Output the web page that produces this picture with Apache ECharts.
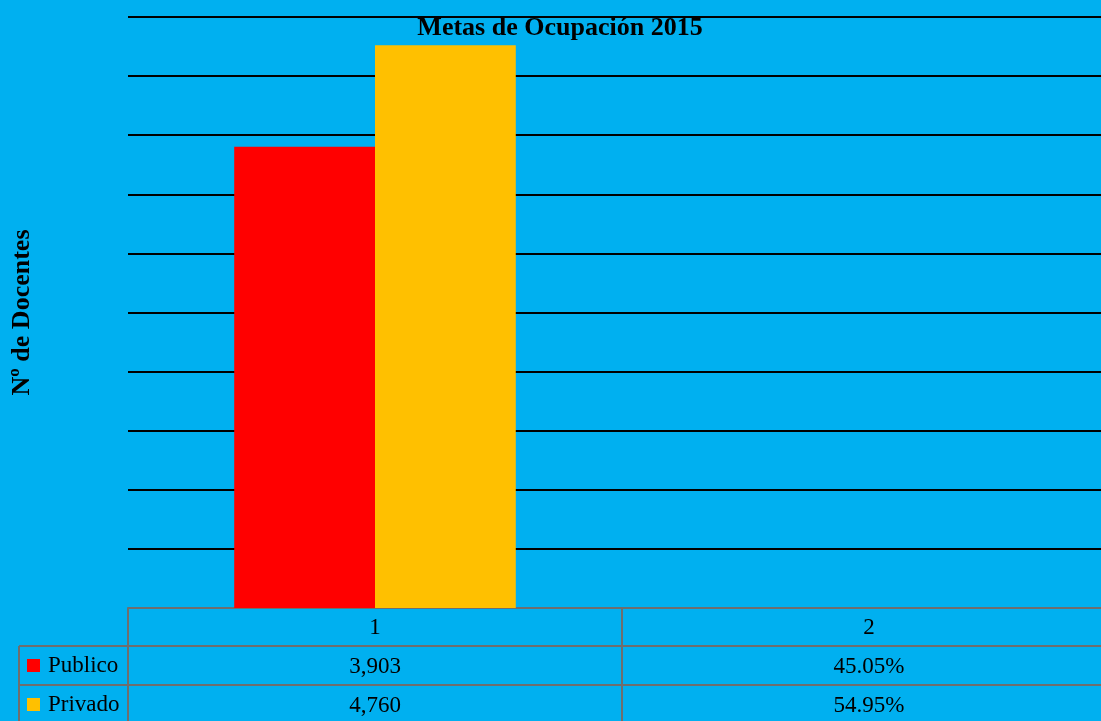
<!DOCTYPE html>
<html>
<head>
<meta charset="utf-8">
<script src="https://cdn.jsdelivr.net/npm/echarts@6/dist/echarts.min.js"></script>
<style>
    html, body { margin: 0; padding: 0; background: #00B0F0; }
    #myChart { width: 1101px; height: 721px; }
</style>
</head>
<body>
<div id="myChart"></div>
<script>
    // datos
    var categories = ['1', '2'];
    var seriesNames = ['Publico', 'Privado'];
    var publico = [3903, 0.4505];
    var privado = [4760, 0.5495];
    var colors = ['#FF0000', '#FFC000'];

    var fontFam = '"Liberation Serif", "DejaVu Serif", serif';

    function fmt(v, idx) {
        // la columna 2 viene en porcentaje
        if (idx === 1) return (v * 100).toFixed(2) + '%';
        return v.toLocaleString('en-US');
    }

    var myChart = echarts.init(document.getElementById('myChart'));

    myChart.setOption({
        backgroundColor: '#00B0F0',
        title: {
            text: 'Metas de Ocupación 2015',
            left: 555,
            textAlign: 'center',
            top: 10,
            textStyle: {
                fontFamily: fontFam,
                fontSize: 26,
                fontWeight: 'bold',
                color: '#000'
            }
        },
        legend: {
            orient: 'vertical',
            left: 27,
            top: 654,
            height: 120,
            padding: 0,
            itemWidth: 13,
            itemHeight: 13,
            itemGap: 16,
            icon: 'rect',
            data: seriesNames,
            textStyle: {
                fontFamily: fontFam,
                fontSize: 23,
                lineHeight: 23,
                color: '#000',
                padding: [0, 0, 0, 3]
            }
        },
        grid: {
            left: 128,
            width: 988,
            top: 17,
            bottom: 113,
            outerBoundsMode: 'none'
        },
        xAxis: {
            type: 'category',
            data: categories,
            axisLine: { show: true, lineStyle: { color: '#6E6E6E', width: 2 } },
            axisTick: {
                show: true,
                length: 113,
                lineStyle: { color: '#6E6E6E', width: 2 }
            },
            axisLabel: {
                margin: 0,
                interval: 0,
                formatter: function (val, idx) {
                    return '{c|' + val + '}\n{c|' + fmt(publico[idx], idx) + '}\n{c|' + fmt(privado[idx], idx) + '}';
                },
                rich: {
                    c: {
                        fontFamily: fontFam,
                        fontSize: 23,
                        color: '#000',
                        lineHeight: 39,
                        align: 'center'
                    }
                }
            }
        },
        yAxis: {
            type: 'value',
            min: 0,
            max: 5000,
            interval: 500,
            name: 'Nº de Docentes',
            nameLocation: 'middle',
            nameGap: 93,
            nameTextStyle: {
                fontFamily: fontFam,
                fontSize: 26,
                fontWeight: 'bold',
                color: '#000'
            },
            axisLabel: { show: false },
            axisLine: { show: false },
            axisTick: { show: false },
            splitLine: { lineStyle: { color: '#000', width: 2 } }
        },
        series: [
            {
                name: seriesNames[0],
                type: 'bar',
                data: publico,
                barGap: '0%',
                barCategoryGap: '43%',
                itemStyle: { color: colors[0] }
            },
            {
                name: seriesNames[1],
                type: 'bar',
                data: privado,
                itemStyle: { color: colors[1] }
            }
        ],
        // lineas de la tabla de datos
        graphic: [
            { type: 'line', shape: { x1: 19, y1: 646, x2: 1101, y2: 646 }, style: { stroke: '#6E6E6E', lineWidth: 2 } },
            { type: 'line', shape: { x1: 19, y1: 685, x2: 1101, y2: 685 }, style: { stroke: '#6E6E6E', lineWidth: 2 } },
            { type: 'line', shape: { x1: 19, y1: 646, x2: 19, y2: 721 }, style: { stroke: '#6E6E6E', lineWidth: 2 } }
        ]
    });
</script>
</body>
</html>
